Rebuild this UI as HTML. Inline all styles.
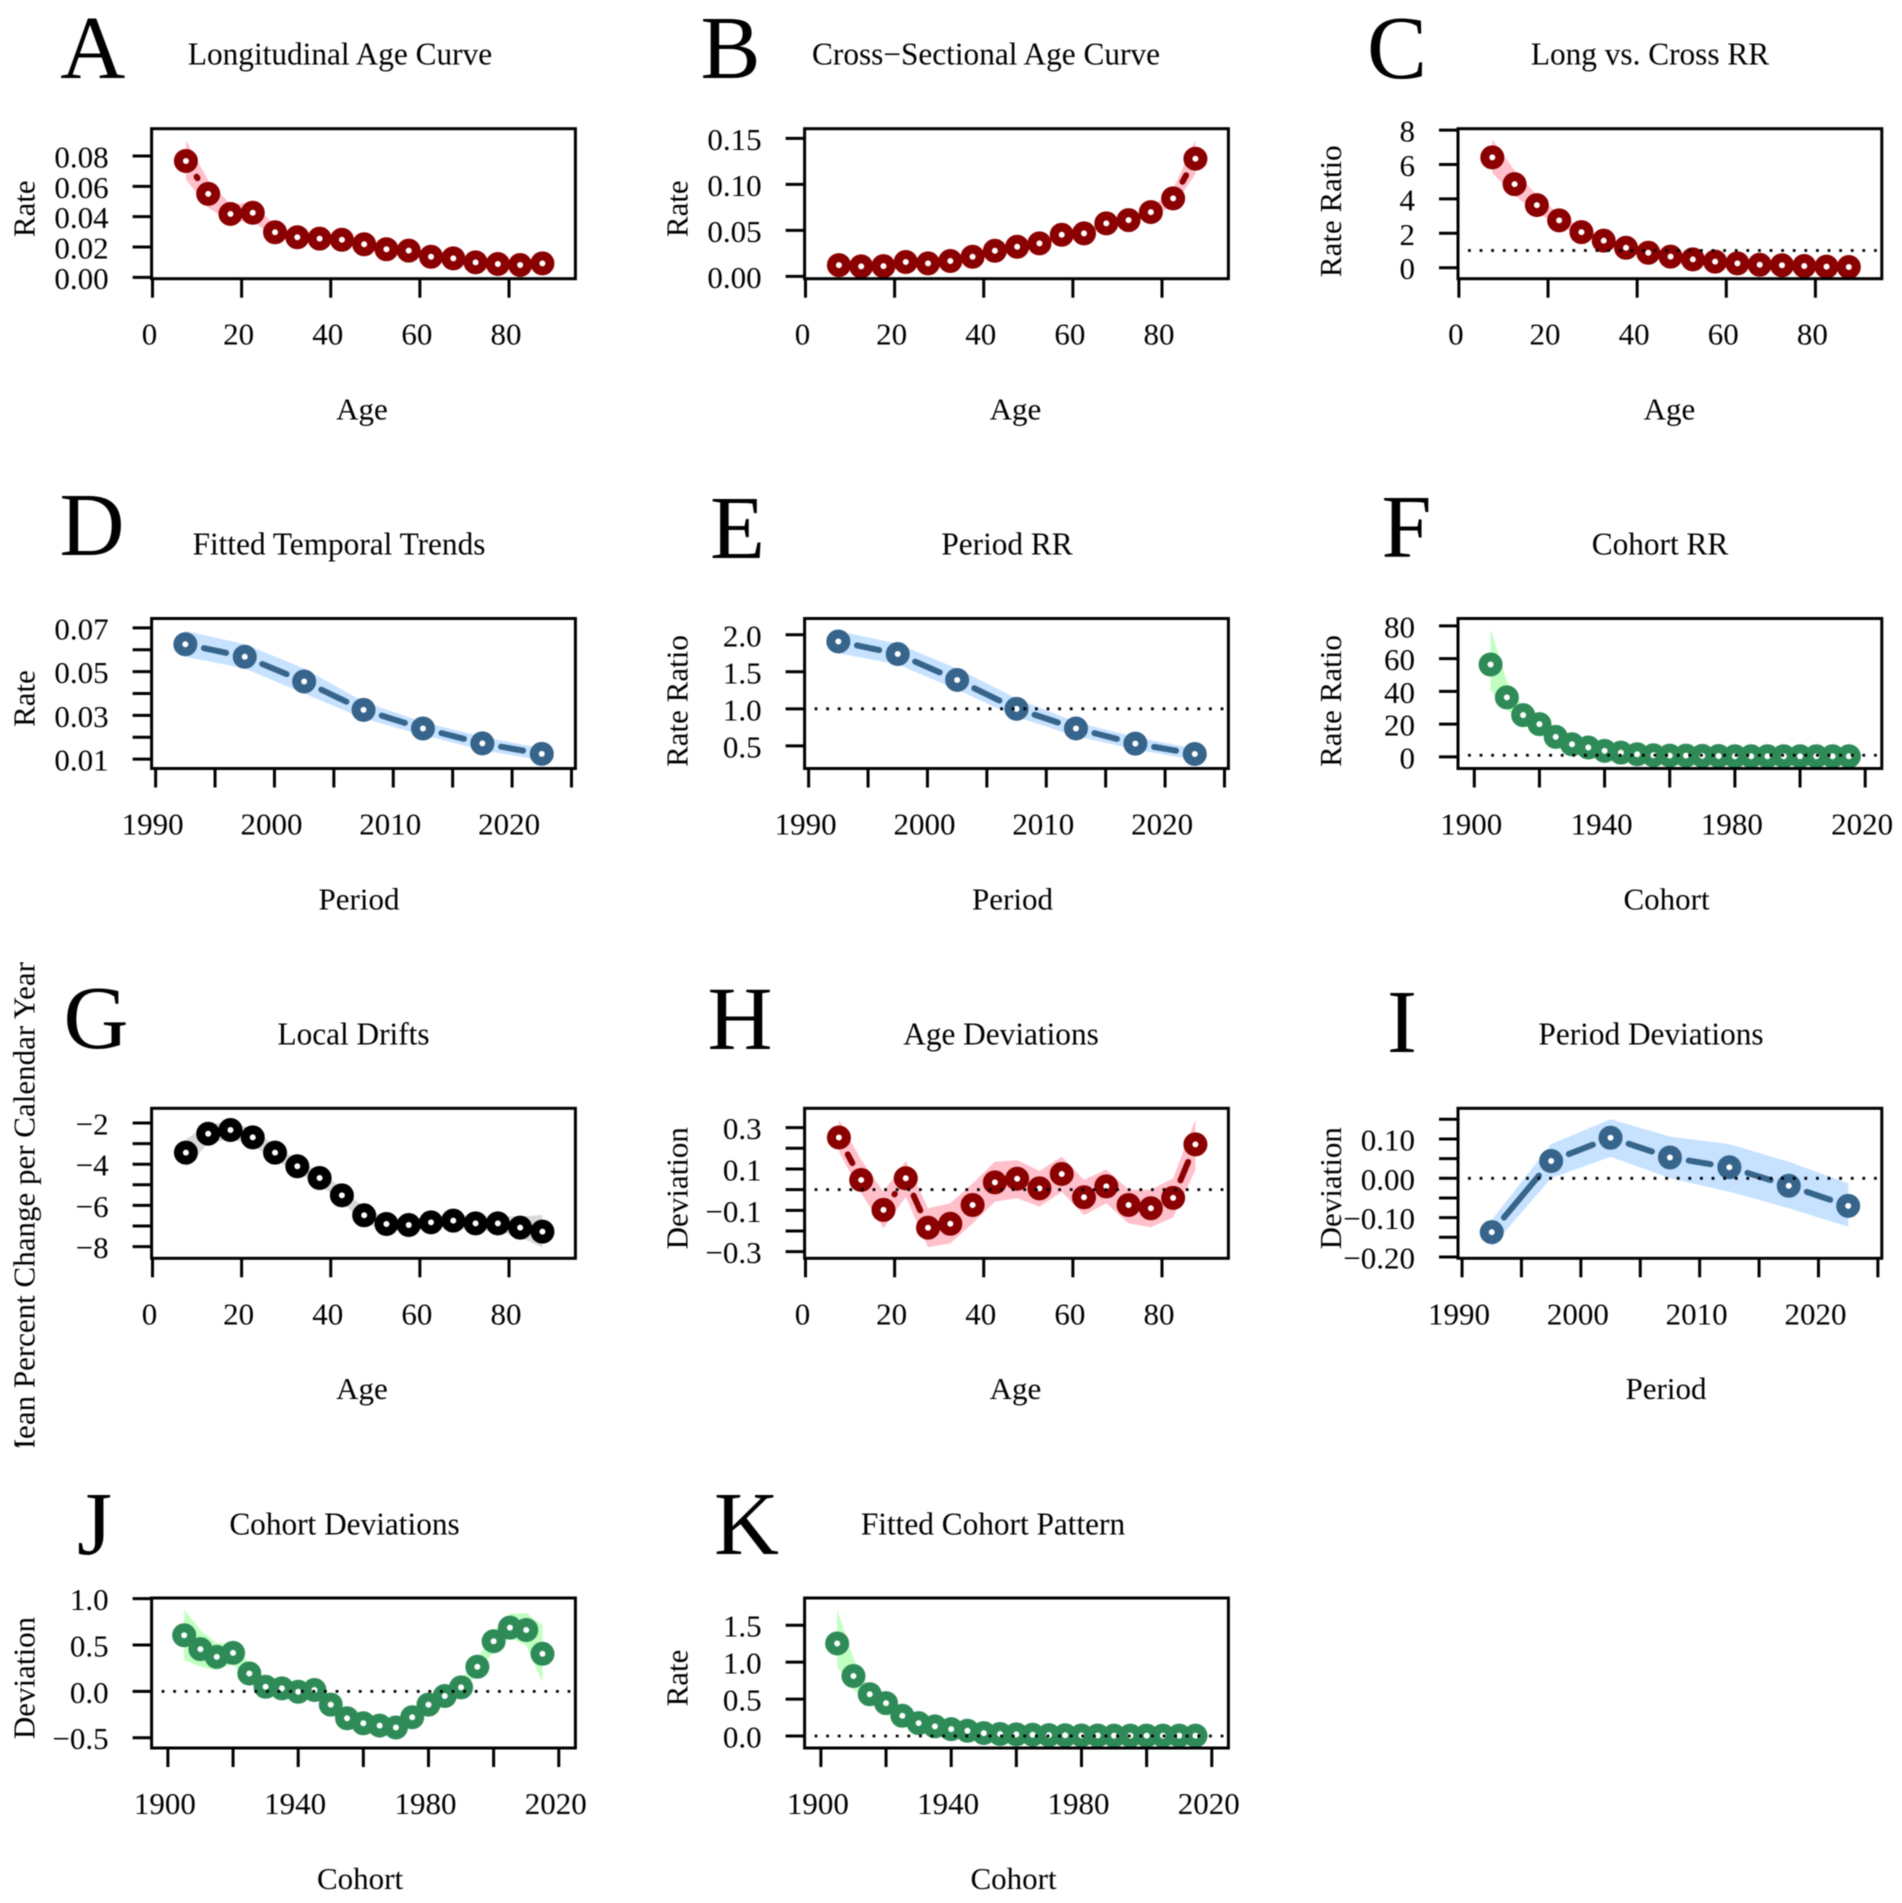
<!DOCTYPE html>
<html lang="en">
<head>
<meta charset="utf-8">
<title>Age-Period-Cohort Panels</title>
<style>
html,body{margin:0;padding:0;background:#fff;}
svg{display:block;font-family:"Liberation Serif","Times New Roman",serif;fill:#000;filter:blur(0.5px);}
</style>
</head>
<body>
<svg id="figure" width="1902" height="1903" viewBox="0 0 1902 1903" xmlns="http://www.w3.org/2000/svg">
<defs><clipPath id="fig-g-clip"><rect x="0" y="900" width="200" height="547"/></clipPath></defs>
</svg>
<script>
const ageCategories = [7.5,12.5,17.5,22.5,27.5,32.5,37.5,42.5,47.5,52.5,57.5,62.5,67.5,72.5,77.5,82.5,87.5];
const periodCategories = [1992.5,1997.5,2002.5,2007.5,2012.5,2017.5,2022.5];
const cohortCategories = [1905,1910,1915,1920,1925,1930,1935,1940,1945,1950,1955,1960,1965,1970,1975,1980,1985,1990,1995,2000,2005,2010,2015];

const ageTicks = [0,20,40,60,80];
const ageTickLabels = ["0","20","40","60","80"];
const periodTicks = [1990,1995,2000,2005,2010,2015,2020,2025];
const periodTickLabels = ["1990","","2000","","2010","","2020",""];
const cohortTicks = [1900,1920,1940,1960,1980,2000,2020];
const cohortTickLabels = ["1900","","1940","","1980","","2020"];

const aValues = [.0767,.055,.0418,.0426,.0297,.0264,.0255,.0248,.0218,.0185,.0176,.0136,.0125,.0099,.0088,.0081,.0092];
const aUpper = [.0905,.064,.048,.0495,.034,.029,.0275,.027,.024,.020,.019,.015,.0135,.011,.0095,.009,.0105];
const aLower = [.0645,.046,.0365,.037,.026,.024,.023,.022,.020,.017,.016,.012,.0115,.009,.008,.0075,.008];
const aYTicks = [0,.02,.04,.06,.08];
const aYLabels = ["0.00","0.02","0.04","0.06","0.08"];

const bValues = [.0123,.0109,.0112,.0156,.0141,.0167,.0214,.0279,.0322,.0359,.0453,.0467,.0576,.0612,.0699,.0848,.1279];
const bUpper = [.0135,.012,.0125,.017,.0155,.018,.023,.030,.0345,.038,.048,.0495,.0605,.065,.074,.095,.148];
const bLower = [.011,.0095,.010,.014,.013,.0155,.020,.026,.030,.034,.043,.044,.055,.058,.066,.076,.111];
const bYTicks = [0,.05,.10,.15];
const bYLabels = ["0.00","0.05","0.10","0.15"];

const cValues = [6.41,4.86,3.64,2.75,2.07,1.57,1.16,.87,.64,.48,.35,.25,.17,.14,.1,.06,.04];
const cUpper = [7.45,5.65,4.2,3.1,2.3,1.75,1.27,.95,.7,.53,.39,.28,.19,.16,.12,.08,.06];
const cLower = [5.5,4.2,3.2,2.45,1.85,1.42,1.05,.79,.58,.43,.31,.22,.15,.12,.08,.04,.02];
const cYTicks = [0,2,4,6,8];
const cYLabels = ["0","2","4","6","8"];

const dValues = [.0625,.0568,.0455,.0325,.024,.0172,.0124];
const dUpper = [.0686,.0625,.0514,.0362,.027,.0202,.0149];
const dLower = [.0568,.0514,.04,.0286,.021,.0141,.0095];
const dYTicks = [.01,.02,.03,.04,.05,.06,.07];
const dYLabels = ["0.01","","0.03","","0.05","","0.07"];

const eValues = [1.91,1.74,1.39,1.0,.735,.53,.39];
const eUpper = [2.05,1.88,1.54,1.14,.82,.62,.46];
const eLower = [1.75,1.6,1.26,.89,.63,.45,.31];
const eYTicks = [.5,1,1.5,2];
const eYLabels = ["0.5","1.0","1.5","2.0"];

const fValues = [56.4,36.3,25.5,20,12.2,7.7,5.7,3.7,2.6,1.6,1.0,.8,.8,.6,.5,.4,.4,.4,.4,.4,.4,.4,.4];
const fUpper = [78,46,30.5,23,14,9,6.5,4.3,3,1.9,1.2,1,1,.8,.7,.6,.6,.6,.5,.5,.5,.5,.6];
const fLower = [40.7,28.5,21,17,10.5,6.5,5,3.1,2.2,1.3,.8,.6,.6,.4,.3,.2,.2,.2,.1,.1,.1,.1,.1];
const fYTicks = [0,20,40,60,80];
const fYLabels = ["0","20","40","60","80"];

const gValues = [-3.44,-2.52,-2.34,-2.70,-3.44,-4.10,-4.67,-5.51,-6.48,-6.90,-6.95,-6.82,-6.74,-6.87,-6.87,-7.08,-7.27];
const gUpper = [-2.8,-2.05,-1.95,-2.3,-3.1,-3.8,-4.35,-5.15,-6.1,-6.6,-6.7,-6.55,-6.45,-6.55,-6.5,-6.55,-6.46];
const gLower = [-4.15,-3,-2.75,-3.1,-3.8,-4.4,-5,-5.85,-6.85,-7.2,-7.25,-7.1,-7.05,-7.2,-7.25,-7.55,-8.03];
const gYTicks = [-8,-7,-6,-5,-4,-3,-2];
const gYLabels = ["\u22128","","\u22126","","\u22124","","\u22122"];

const hValues = [.252,.047,-.098,.055,-.184,-.165,-.074,.035,.053,.006,.076,-.037,.016,-.074,-.09,-.04,.219];
const hUpper = [.34,.143,-.01,.139,-.09,-.066,.03,.135,.143,.09,.16,.047,.098,0,0,.055,.34];
const hLower = [.184,-.018,-.187,-.034,-.279,-.26,-.163,-.058,-.042,-.082,-.01,-.123,-.066,-.163,-.182,-.134,.095];
const hYTicks = [-.3,-.2,-.1,0,.1,.2,.3];
const hYLabels = ["\u22120.3","","\u22120.1","","0.1","","0.3"];

const iValues = [-.137,.044,.103,.053,.028,-.019,-.070];
const iUpper = [-.106,.087,.15,.106,.087,.042,-.013];
const iLower = [-.175,0,.055,0,-.034,-.076,-.123];
const iYTicks = [-.2,-.15,-.1,-.05,0,.05,.1,.15];
const iYLabels = ["\u22120.20","","\u22120.10","","0.00","","0.10",""];

const jValues = [.605,.455,.372,.415,.193,.05,.032,-.004,.014,-.143,-.29,-.344,-.369,-.39,-.279,-.143,-.05,.043,.265,.541,.687,.662,.405];
const jUpper = [.88,.66,.52,.515,.30,.10,.085,.043,.057,-.093,-.236,-.29,-.326,-.344,-.236,-.093,.007,.122,.354,.64,.838,.845,.712];
const jLower = [.337,.265,.229,.30,.086,0,-.04,-.057,-.04,-.193,-.344,-.397,-.422,-.451,-.337,-.2,-.11,-.014,.193,.426,.58,.498,.097];
const jYTicks = [-.5,0,.5,1];
const jYLabels = ["\u22120.5","0.0","0.5","1.0"];

const kValues = [1.253,.813,.566,.445,.274,.175,.13,.094,.072,.04,.027,.022,.018,.012,.01,.008,.008,.006,.006,.006,.006,.006,.006];
const kUpper = [1.71,1.05,.63,.49,.3,.19,.14,.1,.08,.045,.03,.025,.02,.015,.012,.01,.01,.008,.008,.008,.008,.008,.008];
const kLower = [.94,.62,.5,.4,.25,.16,.12,.085,.065,.035,.024,.02,.015,.01,.008,.006,.006,.004,.004,.004,.004,.004,.004];
const kYTicks = [0,.5,1,1.5];
const kYLabels = ["0.0","0.5","1.0","1.5"];

var SVGNS = "http://www.w3.org/2000/svg";
var root = document.getElementById("figure");
var FONT = 31;
var AGE_DOM = [-0.2,94.9], PER_DOM = [1989.66,2025.33], COH_DOM = [1895,2025.1];
var RED = {line:"#8B0000", band:"#FFC0CB"};
var BLUE = {line:"#36648B", band:"#C6E2FF"};
var GREEN = {line:"#2E8B57", band:"#C1FFC1"};
var BLACK = {line:"#000000", band:"#D9D9D9"};
var COLS = [151.6,804.6,1458];
var ROWS = [128.7,618.5,1108.3,1598];
var W = 423.8, H = 150;

function mk(tag, parent, attrs){
  var e = document.createElementNS(SVGNS, tag);
  for (var k in attrs) e.setAttribute(k, attrs[k]);
  parent.appendChild(e);
  return e;
}

function drawPanel(p){
  var L = COLS[p.col], T = ROWS[p.row], R = L + W, B = T + H;
  function sx(v){ return L + (v - p.xDom[0]) / (p.xDom[1] - p.xDom[0]) * W; }
  function sy(v){ return B - (v - p.yDom[0]) / (p.yDom[1] - p.yDom[0]) * H; }
  var id = p.id.toLowerCase();

  var g = mk("g", root, {});
  
  

  var letter = mk("text", g, {x:p.letterX, y:p.letterY, "font-size":90, "text-anchor":"middle"});
  letter.textContent = p.id;
  
  

  var title = mk("text", g, {x:p.titleX, y:p.titleY + 0.8, "font-size":31.3, "text-anchor":"middle"});
  title.textContent = p.title;
  
  

  // confidence band
  var pts = [];
  p.xs.forEach(function(x,i){ pts.push(sx(x).toFixed(1)+","+sy(p.upper[i]).toFixed(1)); });
  for (var i = p.xs.length-1; i >= 0; i--) pts.push(sx(p.xs[i]).toFixed(1)+","+sy(p.lower[i]).toFixed(1));
  var band = mk("polygon", g, {points:pts.join(" "), fill:p.color.band, stroke:"none"});
  
  

  // gapped connecting line (R type "b")
  var GAP = 19;
  for (var s = 0; s < p.xs.length-1; s++){
    var x1 = sx(p.xs[s]), y1 = sy(p.values[s]), x2 = sx(p.xs[s+1]), y2 = sy(p.values[s+1]);
    var d = Math.hypot(x2-x1, y2-y1);
    if (d <= 2*GAP) continue;
    var ux = (x2-x1)/d, uy = (y2-y1)/d;
    var seg = mk("line", g, {x1:x1+ux*GAP, y1:y1+uy*GAP, x2:x2-ux*GAP, y2:y2-uy*GAP, stroke:p.color.line, "stroke-width":6, "stroke-linecap":"round"});
    
    
  }

  // points
  p.xs.forEach(function(x,i){
    var c = mk("circle", g, {cx:sx(x), cy:sy(p.values[i]), r:7.5, fill:"#fff", stroke:p.color.line, "stroke-width":9});
    
    
  });

  // reference line
  if (p.ref !== undefined){
    var rl = mk("line", g, {x1:L+10, x2:R-2, y1:sy(p.ref), y2:sy(p.ref), stroke:"#000", "stroke-width":2.8, "stroke-dasharray":"2.8 8.8"});
    
    
  }

  // frame
  var box = mk("rect", g, {x:L, y:T, width:W, height:H, fill:"none", stroke:"#000", "stroke-width":3});
  
  

  // x axis
  p.xTicks.forEach(function(t,i){
    var tx = sx(t);
    var tk = mk("line", g, {x1:tx, x2:tx, y1:B, y2:B+19, stroke:"#000", "stroke-width":3});
    
    
    if (p.xLabels[i]){
      var lb = mk("text", g, {x:tx-3, y:B+66, "font-size":FONT, "text-anchor":"middle"});
      lb.textContent = p.xLabels[i];
      
      
    }
  });
  var xt = mk("text", g, {x:p.xTitleX, y:B+140.8, "font-size":FONT, "text-anchor":"middle"});
  xt.textContent = p.xTitle;
  
  

  // y axis
  p.yTicks.forEach(function(t,i){
    var ty = sy(t);
    var tk = mk("line", g, {x1:L-19, x2:L, y1:ty, y2:ty, stroke:"#000", "stroke-width":3});
    
    
    if (p.yLabels[i]){
      var lb = mk("text", g, {x:L-43, y:ty+11.5, "font-size":FONT, "text-anchor":"end"});
      lb.textContent = p.yLabels[i];
      
      
    }
  });
  var yx = L - 117, yy = T + H/2 + 5 + (p.yTitleShift || 0);
  var yt;
  if (p.yTitleStart !== undefined){
    var cg = mk("g", g, {"clip-path":"url(#fig-g-clip)"});
    yt = mk("text", cg, {x:yx, y:p.yTitleStart, "font-size":FONT, "text-anchor":"start", transform:"rotate(-90 "+yx+" "+p.yTitleStart+")"});
  } else {
    yt = mk("text", g, {x:yx, y:yy, "font-size":FONT, "text-anchor":"middle", transform:"rotate(-90 "+yx+" "+yy+")"});
  }
  yt.textContent = p.yTitle;
  
  
}

drawPanel({id:"A",col:0,row:0,title:"Longitudinal Age Curve",letterX:92.8,letterY:78,titleX:340,titleY:63.5,xTitle:"Age",xTitleX:362,yTitle:"Rate",
  xs:ageCategories,values:aValues,upper:aUpper,lower:aLower,color:RED,xDom:AGE_DOM,yDom:[-0.0009,0.098],xTicks:ageTicks,xLabels:ageTickLabels,yTicks:aYTicks,yLabels:aYLabels});
drawPanel({id:"B",col:1,row:0,title:"Cross\u2212Sectional Age Curve",letterX:730.5,letterY:78,titleX:986,titleY:63.5,xTitle:"Age",xTitleX:1015.5,yTitle:"Rate",
  xs:ageCategories,values:bValues,upper:bUpper,lower:bLower,color:RED,xDom:AGE_DOM,yDom:[-0.0025,0.1605],xTicks:ageTicks,xLabels:ageTickLabels,yTicks:bYTicks,yLabels:bYLabels});
drawPanel({id:"C",col:2,row:0,title:"Long vs. Cross RR",letterX:1397,letterY:78,titleX:1650,titleY:63.5,xTitle:"Age",xTitleX:1669.5,yTitle:"Rate Ratio",yTitleShift:2.5,ref:1,
  xs:ageCategories,values:cValues,upper:cUpper,lower:cLower,color:RED,xDom:AGE_DOM,yDom:[-0.64,8.08],xTicks:ageTicks,xLabels:ageTickLabels,yTicks:cYTicks,yLabels:cYLabels});
drawPanel({id:"D",col:0,row:1,title:"Fitted Temporal Trends",letterX:92,letterY:555,titleX:339,titleY:553.5,xTitle:"Period",xTitleX:359,yTitle:"Rate",
  xs:periodCategories,values:dValues,upper:dUpper,lower:dLower,color:BLUE,xDom:PER_DOM,yDom:[.00574,.07426],xTicks:periodTicks,xLabels:periodTickLabels,yTicks:dYTicks,yLabels:dYLabels});
drawPanel({id:"E",col:1,row:1,title:"Period RR",letterX:737.5,letterY:558,titleX:1007,titleY:553.5,xTitle:"Period",xTitleX:1012.5,yTitle:"Rate Ratio",yTitleShift:2.5,ref:1,
  xs:periodCategories,values:eValues,upper:eUpper,lower:eLower,color:BLUE,xDom:PER_DOM,yDom:[.194,2.22],xTicks:periodTicks,xLabels:periodTickLabels,yTicks:eYTicks,yLabels:eYLabels});
drawPanel({id:"F",col:2,row:1,title:"Cohort RR",letterX:1406.5,letterY:557,titleX:1660,titleY:553.5,xTitle:"Cohort",xTitleX:1666.5,yTitle:"Rate Ratio",yTitleShift:2.5,ref:1,
  xs:cohortCategories,values:fValues,upper:fUpper,lower:fLower,color:GREEN,xDom:COH_DOM,yDom:[-7.1,84.5],xTicks:cohortTicks,xLabels:cohortTickLabels,yTicks:fYTicks,yLabels:fYLabels});
drawPanel({id:"G",col:0,row:2,title:"Local Drifts",letterX:96,letterY:1048,titleX:353.5,titleY:1043.5,xTitle:"Age",xTitleX:362,yTitle:"Mean Percent Change per Calendar Year",yTitleStart:1466.5,
  xs:ageCategories,values:gValues,upper:gUpper,lower:gLower,color:BLACK,xDom:AGE_DOM,yDom:[-8.566,-1.288],xTicks:ageTicks,xLabels:ageTickLabels,yTicks:gYTicks,yLabels:gYLabels});
drawPanel({id:"H",col:1,row:2,title:"Age Deviations",letterX:740,letterY:1049,titleX:1001,titleY:1043.5,xTitle:"Age",xTitleX:1015.5,yTitle:"Deviation",ref:0,
  xs:ageCategories,values:hValues,upper:hUpper,lower:hLower,color:RED,xDom:AGE_DOM,yDom:[-.332,.3935],xTicks:ageTicks,xLabels:ageTickLabels,yTicks:hYTicks,yLabels:hYLabels});
drawPanel({id:"I",col:2,row:2,title:"Period Deviations",letterX:1402,letterY:1052,titleX:1651,titleY:1043.5,xTitle:"Period",xTitleX:1666,yTitle:"Deviation",ref:0,
  xs:periodCategories,values:iValues,upper:iUpper,lower:iLower,color:BLUE,xDom:PER_DOM,yDom:[-.2034,.178],xTicks:periodTicks,xLabels:periodTickLabels,yTicks:iYTicks,yLabels:iYLabels});
drawPanel({id:"J",col:0,row:3,title:"Cohort Deviations",letterX:94.5,letterY:1554,titleX:344.5,titleY:1533.5,xTitle:"Cohort",xTitleX:360,yTitle:"Deviation",ref:0,
  xs:cohortCategories,values:jValues,upper:jUpper,lower:jLower,color:GREEN,xDom:COH_DOM,yDom:[-.611,1.007],xTicks:cohortTicks,xLabels:cohortTickLabels,yTicks:jYTicks,yLabels:jYLabels});
drawPanel({id:"K",col:1,row:3,title:"Fitted Cohort Pattern",letterX:746.5,letterY:1554,titleX:993,titleY:1533.5,xTitle:"Cohort",xTitleX:1013.5,yTitle:"Rate",ref:0,
  xs:cohortCategories,values:kValues,upper:kUpper,lower:kLower,color:GREEN,xDom:COH_DOM,yDom:[-.162,1.868],xTicks:cohortTicks,xLabels:cohortTickLabels,yTicks:kYTicks,yLabels:kYLabels});
</script>
</body>
</html>
